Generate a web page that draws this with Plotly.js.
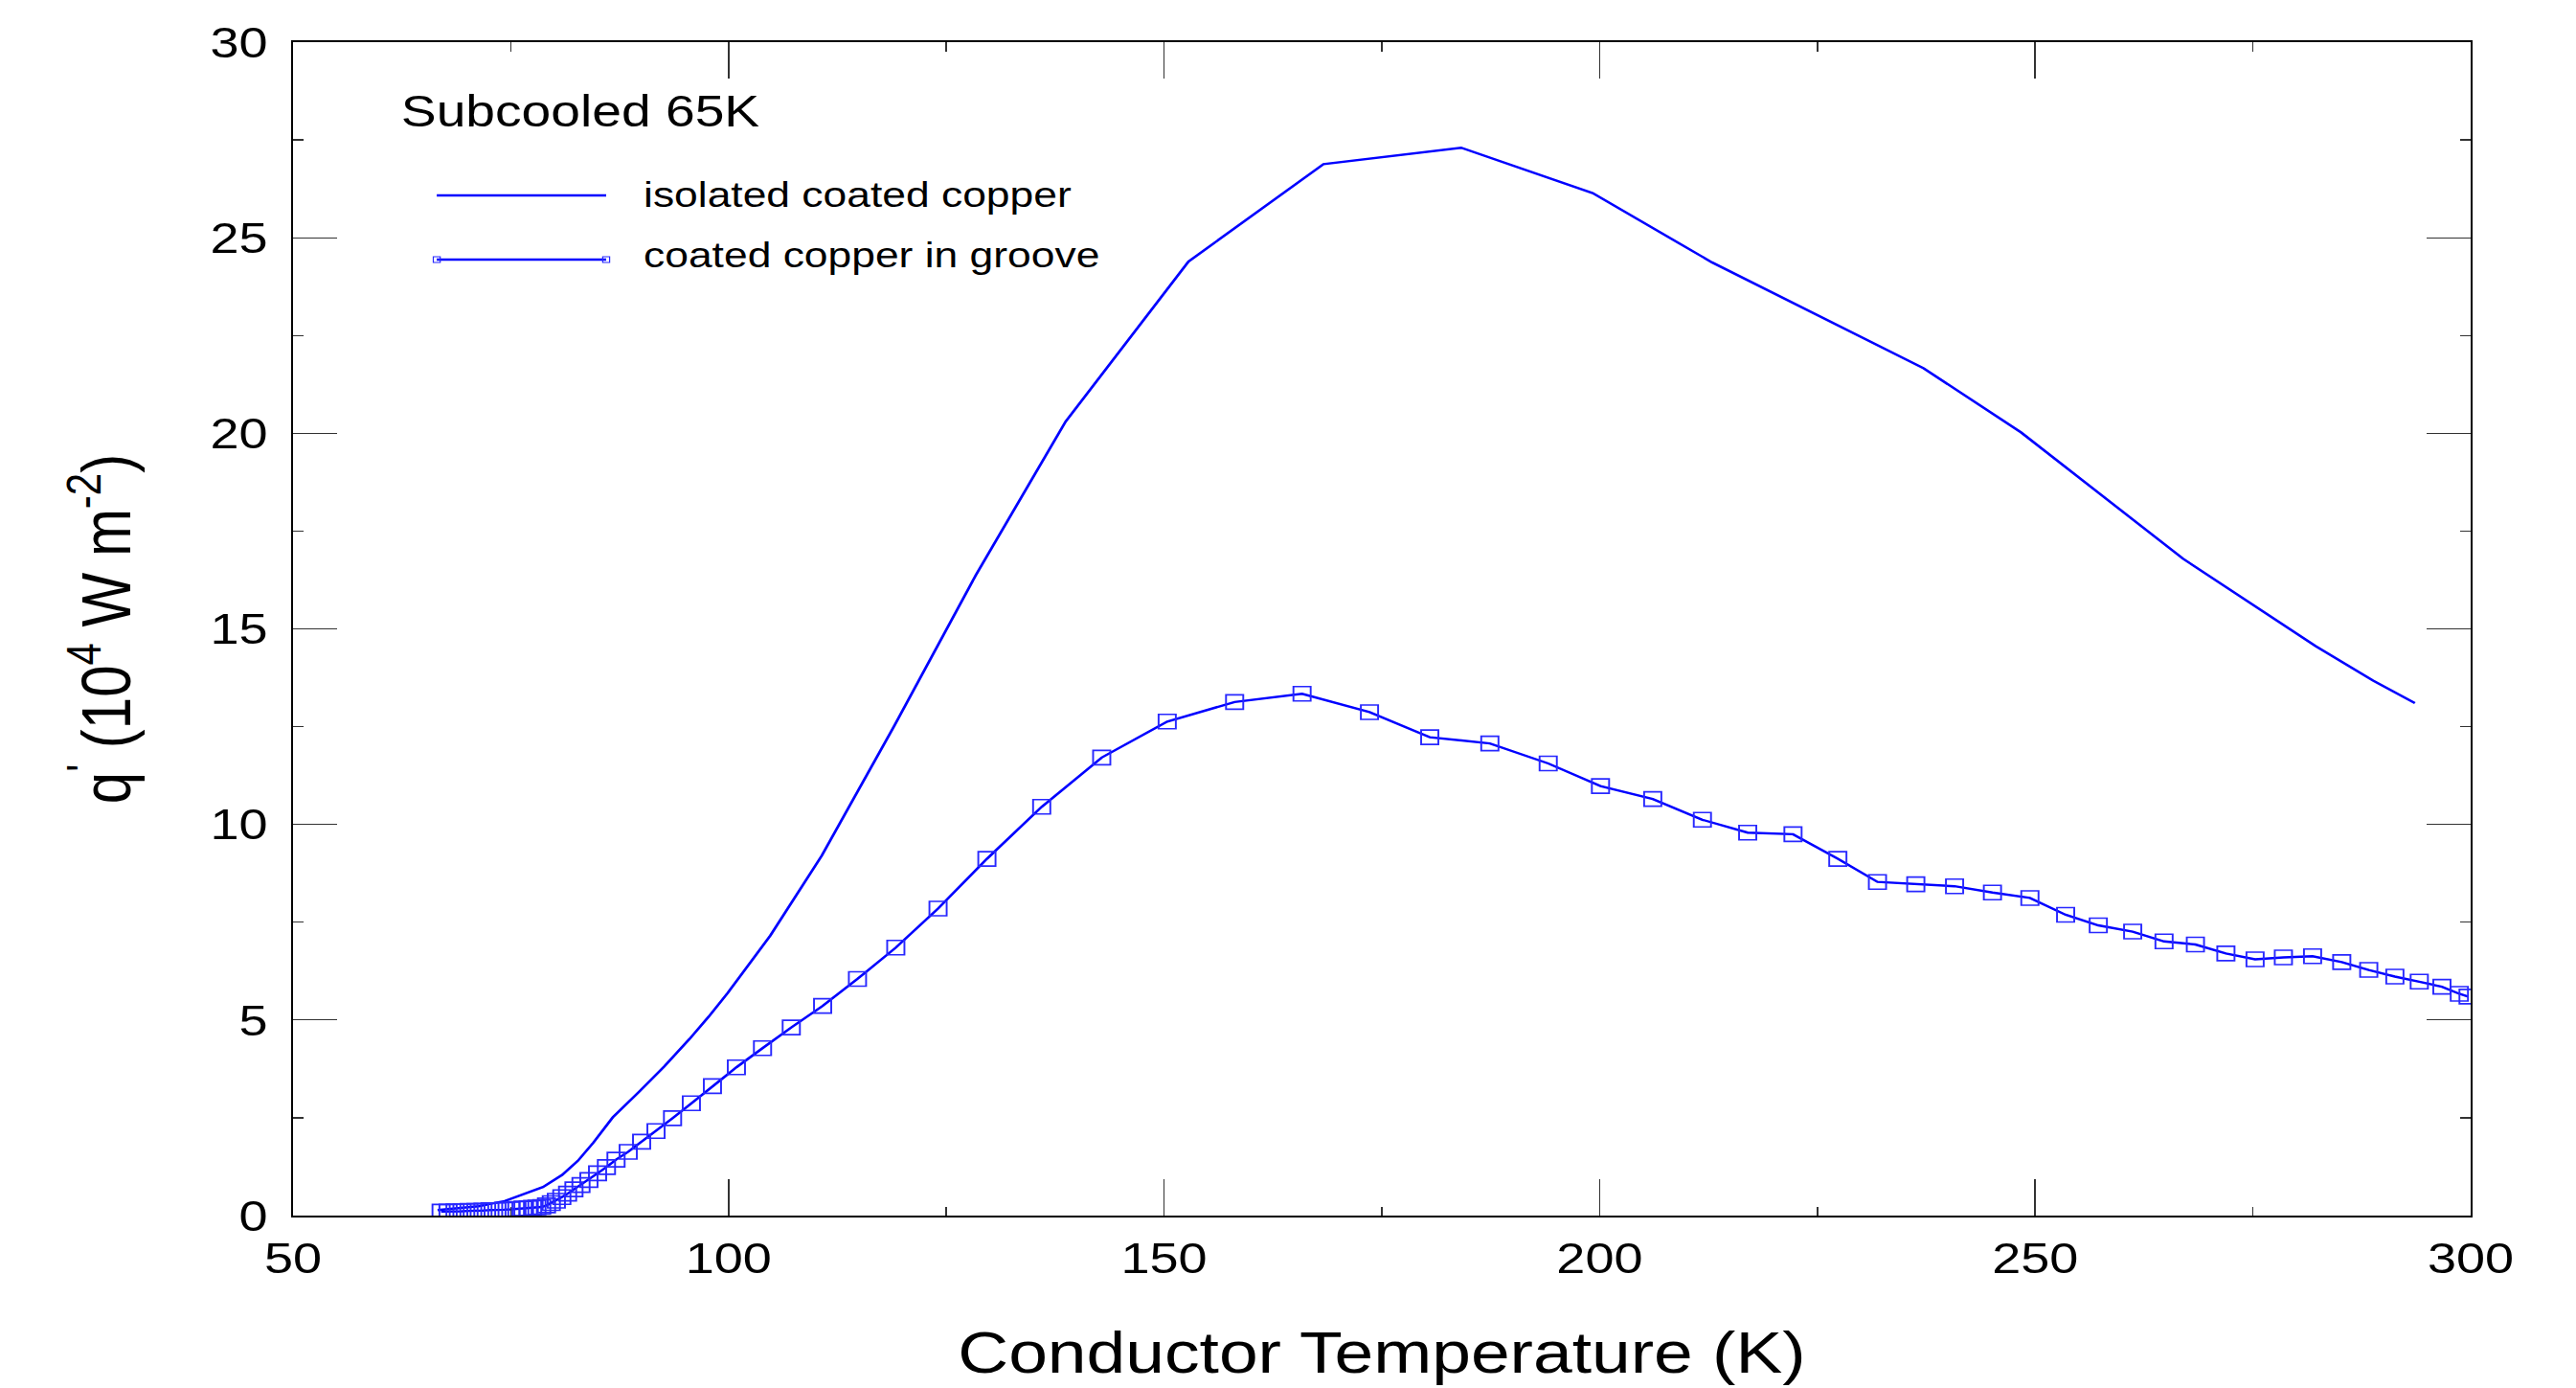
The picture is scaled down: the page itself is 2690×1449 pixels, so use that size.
<!DOCTYPE html>
<html>
<head>
<meta charset="utf-8">
<script src="https://cdn.plot.ly/plotly-3.0.1.min.js"></script>
<style>
  html, body { margin: 0; padding: 0; background: #ffffff; overflow: hidden; }
  #wrap { width: 2690px; height: 1449px; overflow: hidden; }
  #chart { width: 2242px; height: 1449px; transform: scaleX(1.2); transform-origin: 0 0; }
</style>
</head>
<body>
<div id="wrap"><div id="chart"></div></div>
<script>
// ---- data ----
const isolatedT = [66.6, 71.3, 74.3, 76.5, 78.7, 80.9, 82.7, 84.5, 86.7, 89.7, 92.6, 95.5, 97.7, 99.9,
  102.9, 104.8, 110.7, 119.1, 128.4, 133.6, 138.7, 152.8, 168.3, 184.1, 199.2, 212.9, 225.2,
  237.2, 248.4, 267.0, 282.2, 288.8, 293.6];
const isolatedQ = [0.14, 0.24, 0.37, 0.55, 0.73, 1.04, 1.40, 1.87, 2.51, 3.16, 3.81, 4.51, 5.08, 5.69,
  6.59, 7.16, 9.20, 12.55, 16.38, 18.34, 20.30, 24.39, 26.88, 27.30, 26.14, 24.37, 23.00,
  21.66, 20.02, 16.79, 14.56, 13.68, 13.10];

const grooveT = [67.0, 67.8, 68.6, 69.4, 70.2, 71.0, 71.8, 72.6, 73.4, 74.2, 75.0, 75.7, 76.4, 77.0,
  77.5, 78.0, 78.55, 79.1, 79.65, 80.23, 80.86, 81.52, 82.25, 83.06, 83.97, 84.96, 85.98, 87.08,
  88.48, 90.02, 91.67, 93.57, 95.73, 98.15, 100.9, 103.9, 107.2, 110.8, 114.8, 119.2, 124.05,
  129.66, 135.95, 142.84, 150.36, 158.1, 165.84, 173.58, 180.5, 187.4, 194.1, 200.1, 206.1,
  211.8, 217.0, 222.2, 227.35, 231.9, 236.3, 240.75, 245.1, 249.4, 253.5, 257.25, 261.2, 264.8,
  268.4, 271.9, 275.25, 278.5, 281.85, 285.2, 288.3, 291.3, 294.1, 296.7, 298.7, 299.7];
const grooveQ = [0.10, 0.10, 0.11, 0.11, 0.12, 0.12, 0.13, 0.14, 0.14, 0.15, 0.16, 0.17, 0.18, 0.19,
  0.20, 0.21, 0.22, 0.26, 0.32, 0.38, 0.47, 0.56, 0.67, 0.78, 0.91, 1.08, 1.24, 1.43,
  1.63, 1.89, 2.16, 2.49, 2.87, 3.31, 3.79, 4.28, 4.81, 5.36, 6.05, 6.85, 7.85,
  9.12, 10.45, 11.71, 12.63, 13.13, 13.34, 12.87, 12.23, 12.07, 11.56, 10.98, 10.65,
  10.12, 9.79, 9.75, 9.12, 8.53, 8.47, 8.42, 8.26, 8.12, 7.69, 7.42, 7.26, 7.01,
  6.93, 6.70, 6.55, 6.60, 6.63, 6.48, 6.28, 6.11, 5.98, 5.85, 5.67, 5.60];

const seriesNames = ["isolated coated copper", "coated copper in groove"];
const conditionLabel = "Subcooled 65K";
const xTitle = "Conductor Temperature (K)";
const yTitle = "q<sup>'</sup> (10<sup>4</sup> W m<sup>-2</sup>)";
const xTickVals = [50, 100, 150, 200, 250, 300];
const yTickVals = [0, 5, 10, 15, 20, 25, 30];

// ---- styling ----
const FONT = "Liberation Sans, Arial, sans-serif";
const BLUE = "#0000ff";
const MBLUE = "rgb(40,40,255)";

const traces = [
  {
    x: isolatedT, y: isolatedQ, name: seriesNames[0], type: "scatter", mode: "lines",
    line: { color: BLUE, width: 2.4 }, showlegend: false
  },
  {
    x: grooveT, y: grooveQ, name: seriesNames[1], type: "scatter", mode: "lines+markers",
    line: { color: BLUE, width: 2.4 },
    marker: { symbol: "square-open", size: 15, color: MBLUE, line: { width: 1.6, color: MBLUE } },
    showlegend: false
  }
];

const axisCommon = {
  showline: true, linecolor: "#000", linewidth: 2, mirror: "ticks",
  ticks: "inside", ticklen: 38, tickwidth: 1.2, tickcolor: "#333",
  showgrid: false, zeroline: false,
  tickfont: { family: FONT, size: 45, color: "#000" },
};

// legend drawn inside the plot area (long sample lines like the original)
const legX0 = 0.066, legX1 = 0.1438, legTextX = 0.1598;
const legY = [0.8694, 0.8147];
const shapes = [
  { type: "line", xref: "paper", yref: "paper", x0: legX0, x1: legX1, y0: legY[0], y1: legY[0], line: { color: BLUE, width: 2.4 } },
  { type: "line", xref: "paper", yref: "paper", x0: legX0, x1: legX1, y0: legY[1], y1: legY[1], line: { color: BLUE, width: 2.4 } },
];
[legX0, legX1].forEach(function (px) {
  shapes.push({
    type: "rect", xref: "paper", yref: "paper", xsizemode: "pixel", ysizemode: "pixel",
    xanchor: px, yanchor: legY[1], x0: -3, x1: 3, y0: -3, y1: 3,
    line: { color: MBLUE, width: 1 }, fillcolor: "rgba(0,0,0,0)"
  });
});

const layout = {
  width: 2242, height: 1449,
  margin: { l: 255, r: 92, t: 44, b: 180 },
  paper_bgcolor: "#fff", plot_bgcolor: "#fff",
  font: { family: FONT, color: "#000" },
  xaxis: Object.assign({}, axisCommon, {
    range: [50, 300], tickvals: xTickVals, ticklabelstandoff: 4,
    minor: { ticks: "inside", ticklen: 9.5, dtick: 25, tick0: 50, tickwidth: 1.2, tickcolor: "#333", showgrid: false },
    title: { text: xTitle, font: { family: FONT, size: 61, color: "#000" }, standoff: 52 }
  }),
  yaxis: Object.assign({}, axisCommon, {
    range: [0, 30], tickvals: yTickVals, ticklabelstandoff: 11,
    minor: { ticks: "inside", ticklen: 9.5, dtick: 2.5, tick0: 0, tickwidth: 1.2, tickcolor: "#333", showgrid: false },
    title: { text: yTitle, font: { family: FONT, size: 60, color: "#000" }, standoff: 50 }
  }),
  shapes: shapes,
  annotations: [
    { xref: "paper", yref: "paper", x: 0.0486, y: 0.9412, xanchor: "left", yanchor: "middle", showarrow: false,
      text: conditionLabel, font: { family: FONT, size: 46, color: "#000" } },
    { xref: "paper", yref: "paper", x: legTextX, y: legY[0], xanchor: "left", yanchor: "middle", showarrow: false,
      text: seriesNames[0], font: { family: FONT, size: 37, color: "#000" } },
    { xref: "paper", yref: "paper", x: legTextX, y: 0.818, xanchor: "left", yanchor: "middle", showarrow: false,
      text: seriesNames[1], font: { family: FONT, size: 37, color: "#000" } }
  ],
  showlegend: false
};

Plotly.newPlot("chart", traces, layout, { displayModeBar: false, staticPlot: true });
</script>
</body>
</html>
